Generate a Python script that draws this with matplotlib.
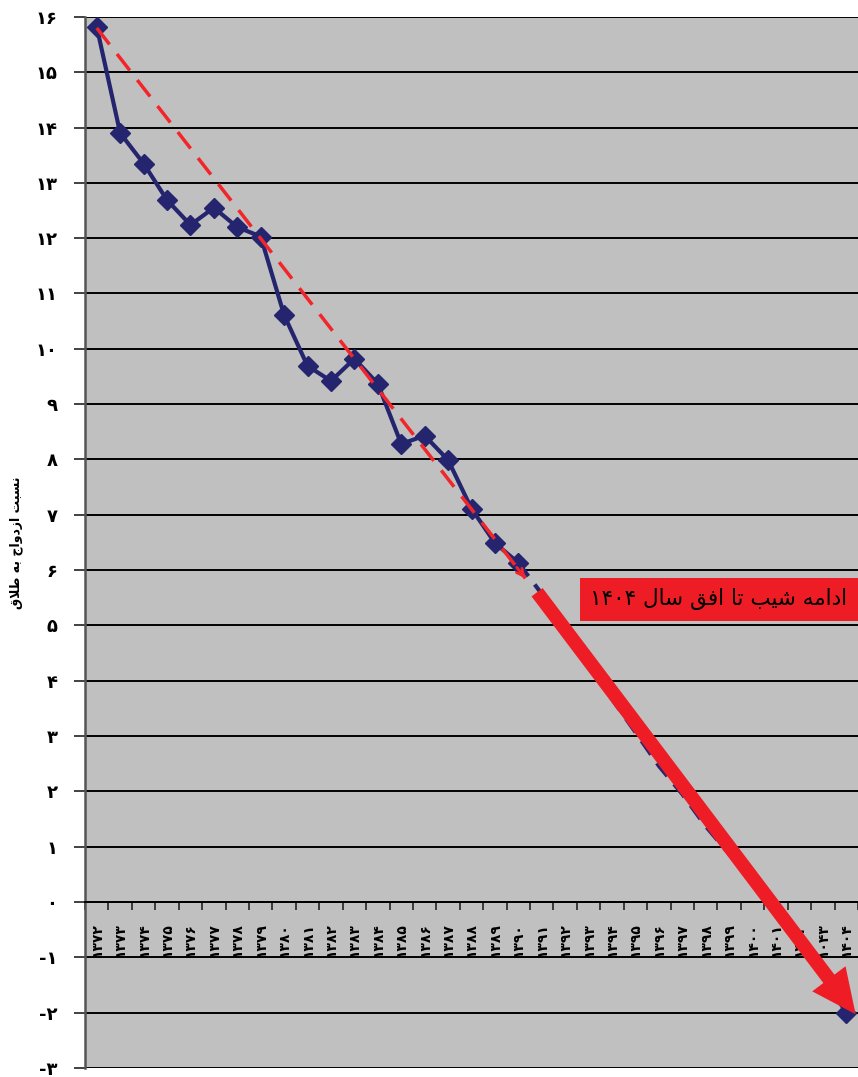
import numpy as np
import matplotlib
matplotlib.use('Agg')
import matplotlib.pyplot as plt
from matplotlib.ticker import FixedLocator, FixedFormatter

plt.rcParams['font.family'] = ['DejaVu Sans']

# داده ها
year_labels = ['۱۳۷۲', '۱۳۷۳', '۱۳۷۴', '۱۳۷۵', '۱۳۷۶', '۱۳۷۷', '۱۳۷۸', '۱۳۷۹',
               '۱۳۸۰', '۱۳۸۱', '۱۳۸۲', '۱۳۸۳', '۱۳۸۴', '۱۳۸۵', '۱۳۸۶', '۱۳۸۷',
               '۱۳۸۸', '۱۳۸۹', '۱۳۹۰', '۱۳۹۱', '۱۳۹۲', '۱۳۹۳', '۱۳۹۴', '۱۳۹۵',
               '۱۳۹۶', '۱۳۹۷', '۱۳۹۸', '۱۳۹۹', '۱۴۰۰', '۱۴۰۱', '۱۴۰۲', '۱۰۴۳', '۱۴۰۴']
actual = [15.82, 13.9, 13.35, 12.69, 12.24, 12.55, 12.2, 12.03, 10.61, 9.69,
          9.42, 9.82, 9.37, 8.28, 8.43, 7.99, 7.11, 6.49, 6.13]
forecast = [6.13, 5.57, 5.03, 4.3, 3.67, 3.07, 2.46, 1.95, 1.37, 0.87,
            0.4, -0.15, -0.7, -1.35, -2.0]
y_ticks = list(range(-3, 17))
y_tick_labels = ['-۳', '-۲', '-۱', '۰', '۱', '۲', '۳', '۴', '۵', '۶', '۷', '۸', '۹',
                 '۱۰', '۱۱', '۱۲', '۱۳', '۱۴', '۱۵', '۱۶']
# خط روند و فلش (مختصات دسته ای)
trend_x = [0, 18.3]
trend_y = [15.8, 5.85]
arrow_from = (18.8, 5.6)
arrow_to = (32.4, -2.03)

title_box = 'ادامه شیب تا افق سال ۱۴۰۴'
y_title = 'نسبت ازدواج به طلاق'

# شکل دهی حروف فارسی (matplotlib خودش انجام نمی دهد)
FORMS = {
    'ا': ('\uFE8D', '\uFE8E', None, None),
    'د': ('\uFEA9', '\uFEAA', None, None),
    'ز': ('\uFEAF', '\uFEB0', None, None),
    'و': ('\uFEED', '\uFEEE', None, None),
    'لا': ('\uFEFB', '\uFEFC', None, None),
    'ب': ('\uFE8F', '\uFE90', '\uFE91', '\uFE92'),
    'ت': ('\uFE95', '\uFE96', '\uFE97', '\uFE98'),
    'ج': ('\uFE9D', '\uFE9E', '\uFE9F', '\uFEA0'),
    'س': ('\uFEB1', '\uFEB2', '\uFEB3', '\uFEB4'),
    'ش': ('\uFEB5', '\uFEB6', '\uFEB7', '\uFEB8'),
    'ط': ('\uFEC1', '\uFEC2', '\uFEC3', '\uFEC4'),
    'ف': ('\uFED1', '\uFED2', '\uFED3', '\uFED4'),
    'ق': ('\uFED5', '\uFED6', '\uFED7', '\uFED8'),
    'ل': ('\uFEDD', '\uFEDE', '\uFEDF', '\uFEE0'),
    'م': ('\uFEE1', '\uFEE2', '\uFEE3', '\uFEE4'),
    'ن': ('\uFEE5', '\uFEE6', '\uFEE7', '\uFEE8'),
    'ه': ('\uFEE9', '\uFEEA', '\uFEEB', '\uFEEC'),
    'ی': ('\uFBFC', '\uFBFD', '\uFEF3', '\uFEF4'),
}


def shape_word(word):
    toks = []
    i = 0
    while i < len(word):
        if word[i] == 'ل' and i + 1 < len(word) and word[i + 1] == 'ا':
            toks.append('لا')
            i += 2
        else:
            toks.append(word[i])
            i += 1
    out = []
    for k, t in enumerate(toks):
        f = FORMS[t]
        jp = k > 0 and FORMS[toks[k - 1]][2] is not None
        jn = f[2] is not None and k < len(toks) - 1
        if jp and jn:
            out.append(f[3])
        elif jp:
            out.append(f[1])
        elif jn:
            out.append(f[2])
        else:
            out.append(f[0])
    return ''.join(reversed(out))


def fa(text):
    words = []
    for w in text.split(' '):
        if all(c in '۰۱۲۳۴۵۶۷۸۹' for c in w):
            words.append(w)
        else:
            words.append(shape_word(w))
    return ' '.join(reversed(words))


navy = '#25256f'
red = '#ee1d25'

fig = plt.figure(figsize=(8.58, 10.77), dpi=100)
ax = fig.add_axes([0.0991, 0.0084, 0.9009, 0.9759])
ax.set_facecolor('#c0c0c0')

x_act = np.arange(len(actual))
x_fc = np.arange(len(actual) - 1, len(actual) - 1 + len(forecast))

ax.plot(x_act, actual, color=navy, lw=3, marker='D', markersize=10.5, zorder=4)
ax.plot(x_fc, forecast, color=navy, lw=3, ls=(0, (4, 2.5)), zorder=3)
ax.plot(x_fc[-1:], forecast[-1:], color=navy, marker='D', markersize=10.5, ls='none', zorder=3)

# خط روند
ax.plot(trend_x, trend_y, color='#f2262a', lw=2.5, ls=(0, (6, 3.5)), zorder=5)
dx = trend_x[1] - trend_x[0]
dy = trend_y[1] - trend_y[0]
ax.annotate('', xy=(trend_x[1], trend_y[1]),
            xytext=(trend_x[1] - dx * 0.02, trend_y[1] - dy * 0.02),
            arrowprops=dict(arrowstyle='->,head_length=0.5,head_width=0.25',
                            color='#f2262a', lw=2, shrinkA=0, shrinkB=0), zorder=5)

# فلش ضخیم ادامه شیب
ax.annotate('', xy=arrow_to, xytext=arrow_from,
            arrowprops=dict(arrowstyle='simple,head_length=1.6,head_width=1.5,tail_width=0.5',
                            color=red, lw=0, shrinkA=0, shrinkB=0, mutation_scale=20),
            zorder=6)

ax.text(32.05, 5.47, fa(title_box), ha='right', va='center', fontsize=15.5, color='black',
        zorder=7, bbox=dict(boxstyle='square,pad=0.48', fc=red, ec='none'))

ax.set_xlim(-0.5, len(year_labels) - 0.5)
ax.set_ylim(-3, 16)

ax.yaxis.set_major_locator(FixedLocator(y_ticks))
ax.yaxis.set_major_formatter(FixedFormatter(y_tick_labels))
ax.yaxis.grid(True, color='black', lw=1.4, zorder=1)
ax.set_axisbelow(True)
ax.tick_params(axis='y', length=8, width=1.3, pad=12, labelsize=13, color='#333333')
for lab in ax.get_yticklabels():
    lab.set_fontweight('bold')

ax.spines['bottom'].set_position(('data', 0))
ax.spines['bottom'].set_linewidth(1.4)
ax.spines['left'].set_color('#555555')
ax.spines['left'].set_linewidth(1.8)
ax.spines['top'].set_visible(False)
ax.spines['right'].set_visible(False)

ax.xaxis.set_major_locator(FixedLocator(np.arange(len(year_labels))))
ax.xaxis.set_major_formatter(FixedFormatter(year_labels))
ax.xaxis.set_minor_locator(FixedLocator(np.arange(len(year_labels) + 1) - 0.5))
ax.tick_params(axis='x', which='major', length=0, pad=15, labelsize=10, rotation=90)
ax.tick_params(axis='x', which='minor', length=6, width=1.2, color='#222222')
for lab in ax.get_xticklabels():
    lab.set_fontweight('bold')
    lab.set_va('top')

ax.set_ylabel(fa(y_title), fontsize=9, fontweight='bold')
ax.yaxis.set_label_coords(-0.08, 0.5)

fig.savefig('out.png', dpi=100, facecolor='white')
